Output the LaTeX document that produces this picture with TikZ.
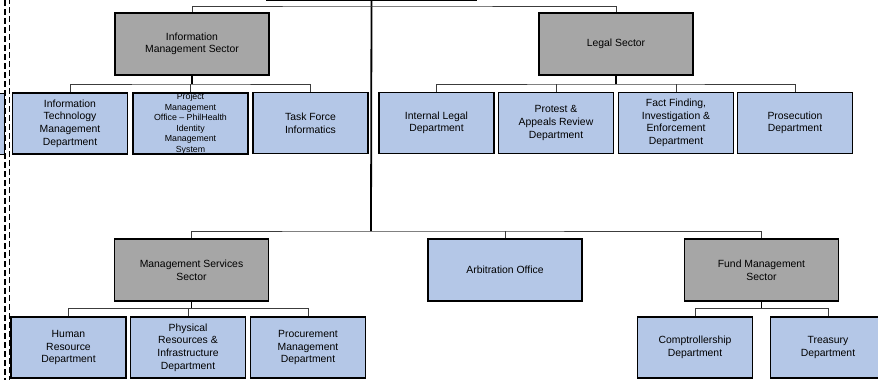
\documentclass[tikz,border=0pt]{standalone}
\usepackage{fontspec}
\setmainfont{Liberation Sans}
\definecolor{boxblue}{RGB}{180,199,231}
\definecolor{boxgray}{RGB}{166,166,166}
\definecolor{linkgray}{RGB}{60,60,60}
\begin{document}
\begin{tikzpicture}[x=1pt,y=-1pt,
  base/.style={draw=black,line width=1.3pt,rectangle,align=center,inner sep=1pt,
    font=\fontsize{10.4}{12.6}\selectfont},
  sector/.style={base,fill=boxgray,minimum width=154pt,minimum height=62pt},
  dept/.style={base,fill=boxblue,minimum width=115pt,minimum height=61pt},
  small/.style={align=center,inner sep=0pt,font=\fontsize{8.8}{10.5}\selectfont},
  link/.style={draw=linkgray,line width=0.9pt},
  stem/.style={draw=black,line width=1.6pt},
  trunk/.style={draw=black,line width=1.8pt},
  sidedash/.style={draw=black,line width=1.2pt,dash pattern=on 6pt off 3pt}]
\clip (0,0) rectangle (878,380);
\fill[white] (0,0) rectangle (878,380);

% top (cut off) box and partial left box
\node[base,fill=white,minimum width=209pt,minimum height=60pt,line width=1.8pt] (top) at (371.5,-30) {};
\node[dept] (partial) at (-53,124) {};

% side dashed lines
\draw[sidedash] (5,0) -- (5,380);
\draw[sidedash,dash phase=2pt] (9.5,0) -- (9.5,380);

% sectors
\node[sector] (ims) at (192,44) {Information\\Management Sector};
\node[sector] (legal) at (616,44) {Legal Sector};
\node[sector] (mss) at (191.5,270) {Management Services\\Sector};
\node[dept,minimum width=154pt,minimum height=62pt] (arb) at (505,270) {Arbitration Office};
\node[sector] (fms) at (761.5,270) {Fund Management\\Sector};

% IMS departments
\node[dept] (itmd) at (70,123.5) {Information\\Technology\\Management\\Department};
\node[dept] (pmo) at (190.5,123.5) {};
\node[small] (pmotext) at (pmo.center) {Project\\Management\\Office -- PhilHealth\\Identity\\Management\\System};
\node[dept] (tfi) at (310.5,123) {Task Force\\Informatics};

% Legal departments
\node[dept] (ild) at (436.5,123) {Internal Legal\\Department};
\node[dept] (prd) at (556,123) {Protest \&\\Appeals Review\\Department};
\node[dept] (ffd) at (676,123) {Fact Finding,\\Investigation \&\\Enforcement\\Department};
\node[dept] (psd) at (795,123) {Prosecution\\Department};

% MSS departments
\node[dept] (hrd) at (68.5,347.5) {Human\\Resource\\Department};
\node[dept] (prid) at (188,347.5) {Physical\\Resources \&\\Infrastructure\\Department};
\node[dept] (pmd) at (308,347.5) {Procurement\\Management\\Department};

% FMS departments
\node[dept] (cd) at (695,347.5) {Comptrollership\\Department};
\node[dept] (td) at (828,347.5) {Treasury\\Department};

% junction coordinates
\coordinate (j1) at (371,6);
\coordinate (j2) at (371,231);
\coordinate (bi) at (192,84);
\coordinate (bl) at (616,84);
\coordinate (bm) at (191.5,308.5);
\coordinate (bf) at (761.5,308.5);

% trunk
\draw[trunk] (top.south) -- (j2);
\draw[link] (ims.north) |- (j1) -| (legal.north);
\draw[link] (mss.north) |- (j2) -| (fms.north);
\draw[link] (arb.north) -- (arb.north |- j2);

% IMS branch
\draw[stem] (ims.south) -- (bi);
\draw[link] (itmd.north) |- (bi) -| (tfi.north);
\draw[link] (pmo.north) -- (pmo.north |- bi);

% Legal branch
\draw[stem] (legal.south) -- (bl);
\draw[link] (ild.north) |- (bl) -| (psd.north);
\draw[link] (prd.north) -- (prd.north |- bl);
\draw[link] (ffd.north) -- (ffd.north |- bl);

% MSS branch
\draw[stem] (mss.south) -- (bm);
\draw[link] (hrd.north) |- (bm) -| (pmd.north);
\draw[link] (prid.north) -- (prid.north |- bm);

% FMS branch
\draw[stem] (fms.south) -- (bf);
\draw[link] (cd.north) |- (bf) -| (td.north);
\end{tikzpicture}
\end{document}
